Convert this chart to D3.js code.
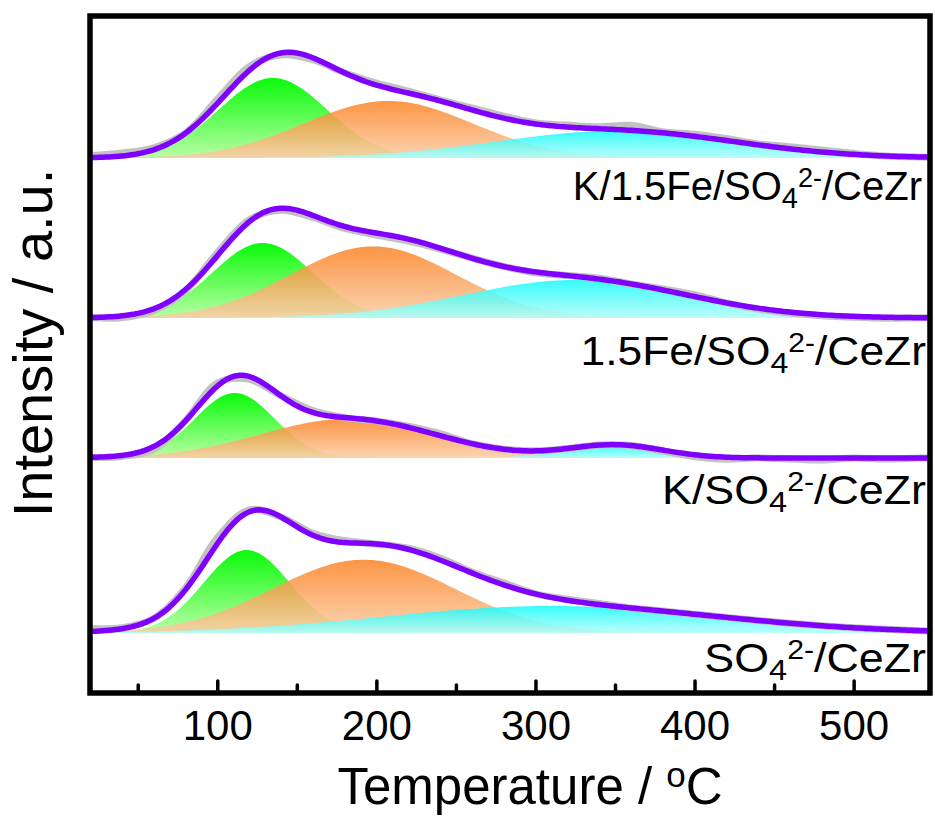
<!DOCTYPE html>
<html><head><meta charset="utf-8">
<script src="https://cdn.jsdelivr.net/npm/d3@7/dist/d3.min.js"></script>
<style>
body{margin:0;background:#fff}
svg{display:block}
text{font-family:Arial,"Liberation Sans",sans-serif;fill:#000}
</style>
</head><body>
<svg id="chart" width="935" height="816"></svg>
<script>
// ---- data (top-level arrays) ----
const labelHead = ["K/1.5Fe/SO", "1.5Fe/SO", "K/SO", "SO"];
const labelSub = "4";
const labelSup = "2-";
const labelTail = "/CeZr";
const offsets = [5.35, 3.75, 2.35, 0.60];            // vertical stacking offsets (a.u.)
const greenCenter = [135, 128.5, 111, 118.5];
const greenHeight = [0.80, 0.75, 0.65, 0.83];
const greenSigma  = [34, 31.5, 25, 27];
const orangeCenter = [207.5, 198, 182, 192];
const orangeHeight = [0.57, 0.716, 0.39, 0.733];
const orangeSigma  = [53, 52, 55, 57];
const cyanCenter = [350, 325, 350, 310];
const cyanHeight = [0.27, 0.38, 0.13, 0.27];
const cyanSigma  = [75, 70, 30, 105];
const rawTemps = [20,40,60,80,100,120,140,160,180,200,220,240,260,280,300,320,340,360,380,400,420,440,460,480,500,520,540];
const rawResidual1 = [0.02,0.03,0.02,0.00,0.04,0.04,-0.02,-0.02,0.00,0.02,0.02,0.01,0.02,0.02,0.01,0.02,0.02,0.05,0.01,0.02,0.02,0.01,0.02,0.02,0.01,0.00,0.00];
const rawResidual2 = [0.00,-0.02,-0.02,-0.01,0.03,0.02,-0.02,-0.02,-0.02,-0.02,-0.02,-0.01,0.00,0.00,-0.01,0.00,0.01,0.00,0.01,0.02,0.00,-0.01,-0.01,-0.01,-0.01,-0.01,0.00];
const rawResidual3 = [0.00,-0.01,-0.03,0.00,0.03,-0.03,0.00,0.02,0.00,0.00,0.01,0.02,0.00,0.00,0.00,0.00,0.00,0.00,-0.01,-0.02,-0.02,0.00,-0.01,-0.02,0.00,-0.01,0.00];
const rawResidual4 = [0.03,0.01,0.00,0.02,0.06,0.02,0.00,0.02,0.02,0.00,0.01,0.02,0.01,0.02,0.00,0.01,0.01,0.00,0.00,0.00,0.00,0.00,0.00,0.00,0.00,0.00,0.00];
const xTicks = [100, 200, 300, 400, 500];
const xMinorTicks = [50, 150, 250, 350, 450];
const xDomain = [20, 548];
const yDomain = [0, 6.77];

const rawResiduals = [rawResidual1, rawResidual2, rawResidual3, rawResidual4];

// ---- layout ----
const L = 90, R = 930, T = 16, B = 693;
const svg = d3.select("#chart");
const x = d3.scaleLinear().domain(xDomain).range([L, R]);
const y = d3.scaleLinear().domain(yDomain).range([B, T]);

const defs = svg.append("defs");
function grad(id, top, bottom, op) {
  const g = defs.append("linearGradient").attr("id", id)
    .attr("x1", 0).attr("y1", 0).attr("x2", 0).attr("y2", 1);
  g.append("stop").attr("offset", "0%").attr("stop-color", top).attr("stop-opacity", op);
  g.append("stop").attr("offset", "100%").attr("stop-color", bottom).attr("stop-opacity", op);
}
grad("gGreen", "rgb(10,250,10)", "rgb(185,255,165)", 1);
grad("gOrange", "rgb(252,130,35)", "rgb(250,205,165)", 0.85);
grad("gCyan", "rgb(20,250,250)", "rgb(175,255,250)", 0.85);

defs.append("clipPath").attr("id", "clip").append("rect")
  .attr("x", L).attr("y", T).attr("width", R - L).attr("height", B - T);

const gauss = (t, c, h, s) => h * Math.exp(-((t - c) * (t - c)) / (2 * s * s));
const grid = d3.range(xDomain[0], xDomain[1] + 0.001, 2);

const plot = svg.append("g").attr("clip-path", "url(#clip)");

for (let i = 0; i < 4; i++) {
  const off = offsets[i];
  const comps = [
    {c: greenCenter[i], h: greenHeight[i], s: greenSigma[i], f: "url(#gGreen)"},
    {c: orangeCenter[i], h: orangeHeight[i], s: orangeSigma[i], f: "url(#gOrange)"},
    {c: cyanCenter[i], h: cyanHeight[i], s: cyanSigma[i], f: "url(#gCyan)"}
  ];
  comps.forEach(cp => {
    const area = d3.area()
      .x(t => x(t))
      .y0(() => y(off))
      .y1(t => y(off + gauss(t, cp.c, cp.h, cp.s)))
      .curve(d3.curveLinear);
    plot.append("path").attr("d", area(grid)).attr("fill", cp.f).attr("stroke", "none");
  });
  const fit = t => comps.reduce((a, cp) => a + gauss(t, cp.c, cp.h, cp.s), 0);
  // raw measured trace
  const rawPts = rawTemps.map((t, k) => [t, off + fit(t) + rawResiduals[i][k]]);
  rawPts.push([xDomain[1], off + fit(xDomain[1])]);
  plot.append("path")
    .attr("d", d3.line().x(d => x(d[0])).y(d => y(d[1])).curve(d3.curveCatmullRom)(rawPts))
    .attr("fill", "none").attr("stroke", "#c2c2c2").attr("stroke-width", 7)
    .attr("stroke-linejoin", "round");
  // fitted envelope
  plot.append("path")
    .attr("d", d3.line().x(t => x(t)).y(t => y(off + fit(t))).curve(d3.curveLinear)(grid))
    .attr("fill", "none").attr("stroke", "#8000ff").attr("stroke-width", 5.5)
    .attr("stroke-linejoin", "round");
}

// ---- frame ----
svg.append("rect").attr("x", L).attr("y", T).attr("width", R - L).attr("height", B - T)
  .attr("fill", "none").attr("stroke", "#000").attr("stroke-width", 5.5);

// ---- x axis (ticks inward) ----
const axMaj = svg.append("g").attr("transform", `translate(0,${B})`)
  .call(d3.axisBottom(x).tickValues(xTicks).tickSize(-12).tickPadding(0).tickFormat(d3.format("d")));
axMaj.select(".domain").remove();
axMaj.selectAll(".tick line").attr("stroke", "#000").attr("stroke-width", 3.5).attr("stroke-linecap", "round");
axMaj.selectAll(".tick text").attr("font-size", 42).attr("dy", 0).attr("y", 47)
  .style("font-family", "Arial, 'Liberation Sans', sans-serif").attr("fill", "#000");

const axMin = svg.append("g").attr("transform", `translate(0,${B})`)
  .call(d3.axisBottom(x).tickValues(xMinorTicks).tickSize(-8).tickFormat(""));
axMin.select(".domain").remove();
axMin.selectAll(".tick line").attr("stroke", "#000").attr("stroke-width", 3.5).attr("stroke-linecap", "round");

// ---- axis titles ----
const xt = svg.append("text").attr("x", 530).attr("y", 804).attr("text-anchor", "middle")
  .attr("font-size", 51);
xt.append("tspan").text("Temperature / ");
xt.append("tspan").text("o").attr("font-size", 35).attr("dy", -17);
xt.append("tspan").text("C").attr("dy", 17);

svg.append("text").attr("transform", "translate(52,343) rotate(-90)")
  .attr("text-anchor", "middle").attr("font-size", 56).text("Intensity / a.u.");

// ---- series labels ----
const labelY = [200, 365, 504, 672];
const labelX = [922, 926, 926, 926];
const labelStretch = [1.0, 1.11, 1.12, 1.12];
labelHead.forEach((h, i) => {
  const t = svg.append("text")
    .attr("transform", `translate(${labelX[i]},${labelY[i]}) scale(${labelStretch[i]},1)`)
    .attr("text-anchor", "end").attr("font-size", 40);
  t.append("tspan").text(h);
  t.append("tspan").text(labelSub).attr("font-size", 29).attr("dy", 8);
  t.append("tspan").text(labelSup).attr("font-size", 27).attr("dy", -21);
  t.append("tspan").text(labelTail).attr("dy", 13);
});
</script>
</body></html>
